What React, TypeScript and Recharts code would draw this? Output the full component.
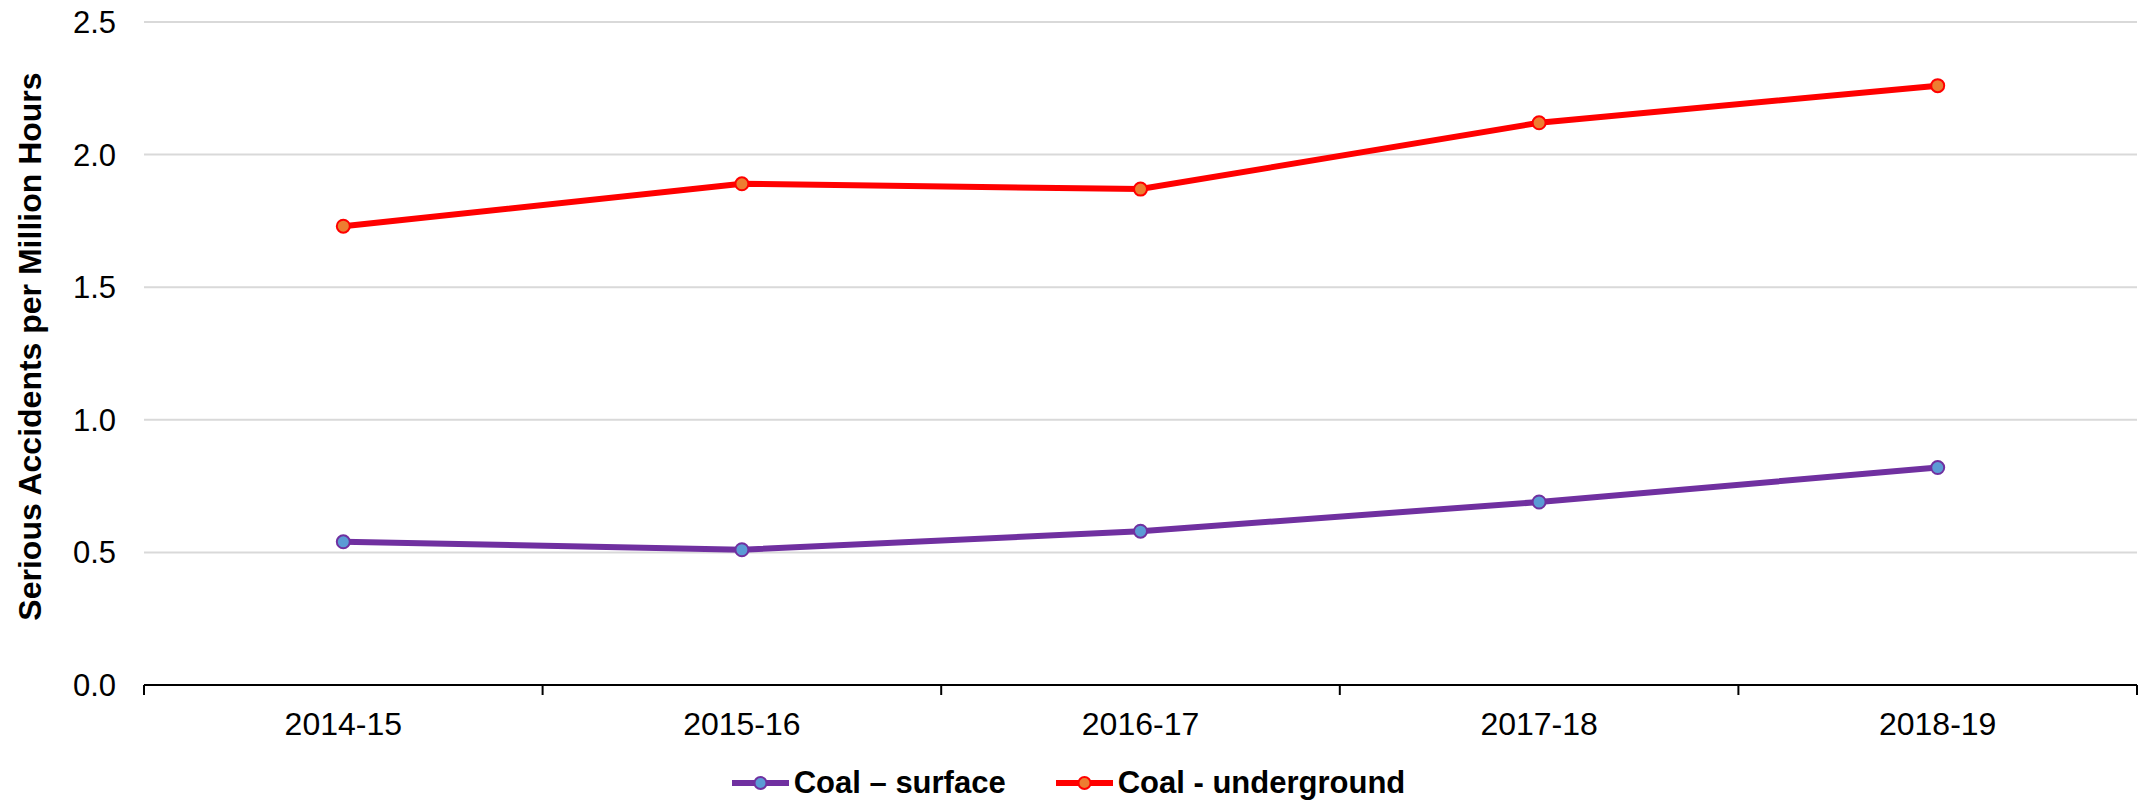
import { CartesianGrid, Label, Legend, Line, LineChart, XAxis, YAxis } from "recharts"

const years = ["2014-15", "2015-16", "2016-17", "2017-18", "2018-19"]
const surface = [0.54, 0.51, 0.58, 0.69, 0.82]
const underground = [1.73, 1.89, 1.87, 2.12, 2.26]
const yTicks = [0, 0.5, 1, 1.5, 2, 2.5]

const data = years.map((year, i) => ({
  year,
  surface: surface[i],
  underground: underground[i],
}))

const series = [
  { key: "surface", name: "Coal \u2013 surface", stroke: "#7030A0", fill: "#5B9BD5" },
  { key: "underground", name: "Coal - underground", stroke: "#FF0000", fill: "#ED7D31" },
]

const font = "'Liberation Sans', Arial, sans-serif"
const X_TICK_MARGIN = 27
const X_TICK_LEN = 10

// category label plus the tick marks on the band boundaries, like Excel draws them
function CategoryTick(props: any) {
  const { x, y, payload, index, visibleTicksCount } = props
  const half = payload.offset ?? 0
  const top = y - X_TICK_MARGIN
  const isLast = index === visibleTicksCount - 1
  return (
    <g>
      <line x1={x - half} x2={x - half} y1={top} y2={top + X_TICK_LEN} stroke="#000" strokeWidth={2} />
      {isLast && (
        <line x1={x + half} x2={x + half} y1={top} y2={top + X_TICK_LEN} stroke="#000" strokeWidth={2} />
      )}
      <text x={x} y={y} dy="0.71em" textAnchor="middle" fill="#000" fontSize={32} fontFamily={font}>
        {payload.value}
      </text>
    </g>
  )
}

function LegendRow() {
  return (
    <div
      style={{
        height: 36,
        display: "flex",
        justifyContent: "center",
        alignItems: "center",
        gap: 50,
        fontFamily: font,
        fontWeight: "bold",
        fontSize: 31,
        color: "#000",
      }}
    >
      {series.map((s) => (
        <div key={s.key} style={{ display: "flex", alignItems: "center", gap: 5 }}>
          <svg width={57} height={20}>
            <line x1={0} y1={10} x2={57} y2={10} stroke={s.stroke} strokeWidth={6} strokeLinecap="round" />
            <circle cx={28.5} cy={10} r={6} fill={s.fill} stroke={s.stroke} strokeWidth={2} />
          </svg>
          <span>{s.name}</span>
        </div>
      ))}
    </div>
  )
}

export default function App() {
  return (
    <div style={{ position: "absolute", left: 0, top: 0, background: "#fff" }}>
      <LineChart
        width={2151}
        height={802}
        data={data}
        margin={{ top: 22, right: 14, left: 0, bottom: 1 }}
      >
        <CartesianGrid horizontal vertical={false} stroke="#d9d9d9" strokeWidth={2} />
        <XAxis
          dataKey="year"
          scale="band"
          axisLine={{ stroke: "#000", strokeWidth: 2 }}
          tickLine={false}
          tickSize={0}
          tickMargin={X_TICK_MARGIN}
          height={80}
          interval={0}
          tick={<CategoryTick />}
        />
        <YAxis
          domain={[0, 2.5]}
          ticks={yTicks}
          width={144}
          axisLine={false}
          tickLine={false}
          tickSize={0}
          tickMargin={28}
          tickFormatter={(v: number) => v.toFixed(1)}
          tick={{ fill: "#000", fontSize: 31, fontFamily: font }}
        >
          <Label
            content={({ viewBox }: any) => {
              const cy = viewBox.y + viewBox.height / 2 - 7
              return (
                <text
                  x={30}
                  y={cy}
                  transform={`rotate(-90, 30, ${cy})`}
                  textAnchor="middle"
                  dominantBaseline="central"
                  fontFamily={font}
                  fontWeight="bold"
                  fontSize={32}
                  fill="#000"
                >
                  Serious Accidents per Million Hours
                </text>
              )
            }}
          />
        </YAxis>
        <Legend verticalAlign="bottom" content={() => <LegendRow />} />
        {series.map((s) => (
          <Line
            key={s.key}
            dataKey={s.key}
            name={s.name}
            stroke={s.stroke}
            strokeWidth={6}
            dot={{ r: 6.5, fill: s.fill, stroke: s.stroke, strokeWidth: 2 }}
            activeDot={false}
            isAnimationActive={false}
          />
        ))}
      </LineChart>
    </div>
  )
}
